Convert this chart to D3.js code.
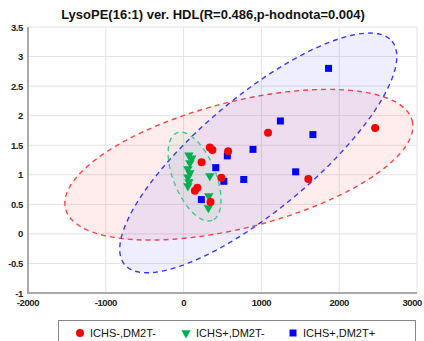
<!DOCTYPE html>
<html><head><meta charset="utf-8">
<script src="https://cdn.jsdelivr.net/npm/d3@7"></script>
<style>body{margin:0;background:#fff}svg{display:block;font-family:"Liberation Sans",Arial,sans-serif}</style>
</head><body>
<script>
const title = "LysoPE(16:1) ver. HDL(R=0.486,p-hodnota=0.004)";
const xTicks = [-2000,-1000,0,1000,2000,3000];
const yTicks = [-1,-0.5,0,0.5,1,1.5,2,2.5,3,3.5];
const yTickLabels = ["-1","-0.5","0","0.5","1","1.5","2","2.5","3","3.5"];
const seriesNames = ["ICHS-,DM2T-","ICHS+,DM2T-","ICHS+,DM2T+"];
const redX = [337,370,572,231,485,177,145,346,1085,2462,1603];
const redY = [1.46,1.42,1.40,1.21,0.95,0.78,0.73,0.54,1.71,1.79,0.93];
const greenX = [68,106,81,55,81,55,68,55,337,324,318];
const greenY = [1.33,1.28,1.20,1.10,1.03,0.96,0.88,0.81,0.98,0.64,0.44];
const blueX = [562,414,517,228,773,892,1244,1662,1440,1863];
const blueY = [1.32,1.12,0.89,0.58,0.92,1.43,1.91,1.68,1.05,2.80];
// confidence ellipses: center, major-axis vector, minor-axis vector (data units)
const redEllipse = [710,1.17, 2228,0.745, 199,-1.034];
const greenEllipse = [141,0.97, 228,-0.740, -252,-0.135];
const blueEllipse = [960,1.37, 1719,1.889, 467,-0.738];

const W=424,H=341;
const svg=d3.select("body").append("svg").attr("width",W).attr("height",H);
const x=d3.scaleLinear().domain([-2000,3000]).range([28,417]);
const y=d3.scaleLinear().domain([-1,3.5]).range([293,27]);

// grid
const g=svg.append("g");
g.selectAll(".gx").data(xTicks).enter().append("line")
  .attr("x1",d=>x(d)).attr("x2",d=>x(d)).attr("y1",y(3.5)).attr("y2",y(-1))
  .attr("stroke","#e4e4e4").attr("stroke-width",1);
g.selectAll(".gy").data(yTicks).enter().append("line")
  .attr("y1",d=>y(d)).attr("y2",d=>y(d)).attr("x1",x(-2000)).attr("x2",x(3000))
  .attr("stroke","#e4e4e4").attr("stroke-width",1);

// ellipses
function ellPath(e){
  const pts=d3.range(0,361,3).map(a=>{const t=a*Math.PI/180;
    return [x(e[0]+e[2]*Math.cos(t)+e[4]*Math.sin(t)), y(e[1]+e[3]*Math.cos(t)+e[5]*Math.sin(t))];});
  return d3.line()(pts)+"Z";
}
const ells=[[redEllipse,"rgba(255,60,60,0.09)","#ff4444"],[blueEllipse,"rgba(70,70,255,0.09)","#3a3aff"],[greenEllipse,"rgba(60,200,120,0.07)","#3ccc88"]];
ells.forEach(([e,f,s])=>{
  svg.append("path").attr("d",ellPath(e)).attr("fill",f).attr("stroke",s)
    .attr("stroke-width",1.4).attr("stroke-dasharray","5,4");
});

// axes lines
svg.append("line").attr("x1",x(-2000)).attr("x2",x(-2000)).attr("y1",y(3.5)).attr("y2",y(-1)+1).attr("stroke","#aaa").attr("stroke-width",2);
svg.append("line").attr("x1",x(-2000)-1).attr("x2",x(3000)).attr("y1",y(-1)).attr("y2",y(-1)).attr("stroke","#aaa").attr("stroke-width",2);

// ticks labels
svg.selectAll(".xl").data(xTicks).enter().append("text")
  .attr("x",(d,i)=>i===xTicks.length-1?422:x(d)).attr("y",y(-1)+13)
  .attr("text-anchor",(d,i)=>i===xTicks.length-1?"end":"middle")
  .attr("font-size",9.5).attr("font-weight","bold").attr("fill","#222").attr("letter-spacing","-0.4")
  .text(d=>d);
svg.selectAll(".yl").data(yTicks).enter().append("text")
  .attr("x",23).attr("y",(d,i)=>y(d)+3.5).attr("text-anchor","end")
  .attr("font-size",9.5).attr("font-weight","bold").attr("fill","#222").attr("letter-spacing","-0.4")
  .text((d,i)=>yTickLabels[i]);

// points
const red=redX.map((v,i)=>[v,redY[i]]);
const green=greenX.map((v,i)=>[v,greenY[i]]);
const blue=blueX.map((v,i)=>[v,blueY[i]]);
const triDown=d3.symbol().type(d3.symbolTriangle).size(38);
svg.selectAll(".gp").data(green).enter().append("path")
  .attr("d",triDown).attr("transform",d=>`translate(${x(d[0])},${y(d[1])}) rotate(180)`)
  .attr("fill","#00b050");
svg.selectAll(".bp").data(blue).enter().append("rect")
  .attr("x",d=>x(d[0])-3.5).attr("y",d=>y(d[1])-3.5).attr("width",7).attr("height",7).attr("fill","#0000ff");
svg.selectAll(".rp").data(red).enter().append("circle")
  .attr("cx",d=>x(d[0])).attr("cy",d=>y(d[1])).attr("r",4).attr("fill","#ff0000");

// title
svg.append("text").attr("x",213).attr("y",19).attr("text-anchor","middle")
  .attr("font-size",13).attr("font-weight","bold").attr("fill","#111").text(title);

// legend
const lg=svg.append("g");
lg.append("rect").attr("x",58.5).attr("y",320.5).attr("width",357).attr("height",24).attr("fill","#fff").attr("stroke","#888");
const lx=[80,186,293];
lg.append("circle").attr("cx",lx[0]).attr("cy",333).attr("r",4).attr("fill","#ff0000");
lg.append("path").attr("d",triDown).attr("transform",`translate(${lx[1]},333) rotate(180)`).attr("fill","#00b050");
lg.append("rect").attr("x",lx[2]-3.5).attr("y",329.5).attr("width",7).attr("height",7).attr("fill","#0000ff");
seriesNames.forEach((n,i)=>{
  lg.append("text").attr("x",lx[i]+10).attr("y",337).attr("font-size",11).attr("fill","#111").text(n);
});
</script>
</body></html>
